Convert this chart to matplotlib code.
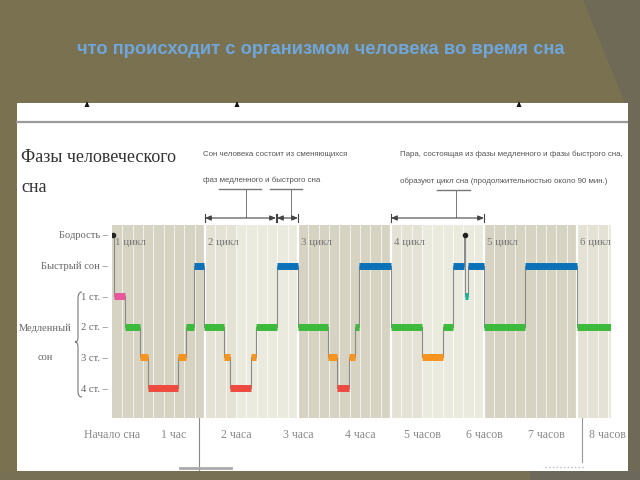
import matplotlib
matplotlib.use('Agg')
import matplotlib.pyplot as plt
from matplotlib.patches import Rectangle, Polygon, PathPatch
from matplotlib.path import Path

# ---------------- data ----------------
title = 'что происходит с организмом человека во время сна'
heading = ['Фазы человеческого', 'сна']
note1 = ['Сон человека состоит из сменяющихся', 'фаз медленного и быстрого сна']
note2 = ['Пара, состоящая из фазы медленного и фазы быстрого сна,',
         'образуют цикл сна (продолжительностью около 90 мин.)']
stage_labels = ['Бодрость', 'Быстрый сон', '1 ст.', '2 ст.', '3 ст.', '4 ст.']
group_label = ['Медленный', 'сон']
hour_ticks = [0, 1, 2, 3, 4, 5, 6, 7, 8]
hour_labels = ['Начало сна', '1 час', '2 часа', '3 часа', '4 часа',
               '5 часов', '6 часов', '7 часов', '8 часов']
cycle_starts = [0.0, 1.5, 3.0, 4.5, 6.0, 7.5]
cycle_labels = ['1 цикл', '2 цикл', '3 цикл', '4 цикл', '5 цикл', '6 цикл']
t_end = 8.05

# stage index: 0 awake, 1 REM, 2..5 slow sleep stages 1..4
seg_start = [0.00, 0.03, 0.21, 0.45, 0.58, 1.07, 1.19, 1.32, 1.49, 1.81, 1.90, 2.24,
             2.32, 2.66, 3.00, 3.48, 3.63, 3.82, 3.92, 3.98, 4.50, 5.00, 5.34, 5.50,
             5.68, 5.69, 5.74, 6.00, 6.66, 7.50]
seg_end = [0.03, 0.21, 0.45, 0.58, 1.07, 1.19, 1.32, 1.49, 1.81, 1.90, 2.24, 2.32,
           2.66, 3.00, 3.48, 3.63, 3.82, 3.92, 3.98, 4.50, 5.00, 5.34, 5.50, 5.68,
           5.69, 5.74, 6.00, 6.66, 7.50, 8.05]
seg_stage = [0, 2, 3, 4, 5, 4, 3, 1, 3, 4, 5, 4,
             3, 1, 3, 4, 5, 4, 3, 1, 3, 4, 3, 1,
             0, 2, 1, 3, 1, 3]

# ---------------- style ----------------
stage_colors = {0: '#222222', 1: '#0b72b9', 2: '#e8559d', 3: '#3cba3c',
                4: '#f7941d', 5: '#ee4a3f'}
teal = '#12b59a'
slide_bg = '#7a7150'
serif = ['Liberation Serif', 'DejaVu Serif']
sans = ['Liberation Sans', 'DejaVu Sans']

fig = plt.figure(figsize=(6.4, 4.8), dpi=100)
fig.patch.set_facecolor(slide_bg)

bg = fig.add_axes([0, 0, 1, 1])
bg.set_xlim(0, 640)
bg.set_ylim(480, 0)
bg.axis('off')

# slide decorations
bg.add_patch(Polygon([(583, 0), (640, 0), (640, 480), (628, 480), (628, 110)],
                     closed=True, facecolor='#6f6a56', edgecolor='none', zorder=0))
bg.add_patch(Rectangle((0, 471), 640, 9, facecolor='#777055', edgecolor='none', zorder=0))
bg.add_patch(Rectangle((530, 471), 110, 9, facecolor='#6c695c', edgecolor='none', zorder=0))
bg.add_patch(Rectangle((17, 103), 611, 368, facecolor='white', edgecolor='none', zorder=1))

bg.text(321, 50, title, ha='center', va='center', color='#6fa6dc',
        fontsize=13.2, fontweight='bold', family=sans, zorder=3)

# tiny marks at top of the panel
for cx in (87, 237, 519):
    bg.add_patch(Polygon([(cx - 2.5, 107), (cx + 2.5, 107), (cx, 101)], closed=True,
                         facecolor='#111111', edgecolor='none', zorder=2))
bg.plot([17, 627], [122, 122], color='#9a9a9a', lw=1.6, zorder=2)

# heading
bg.text(21, 157, heading[0], ha='left', va='center', color='#333333',
        fontsize=13, family=serif, zorder=3)
bg.text(21, 187, heading[1], ha='left', va='center', color='#333333',
        fontsize=13, family=serif, zorder=3)

# notes
note_col = '#555555'
nfs = 5.7
bg.text(203, 154, note1[0], ha='left', va='center', color=note_col, fontsize=nfs,
        family=sans, zorder=3)
bg.text(203, 180, note1[1], ha='left', va='center', color=note_col, fontsize=nfs,
        family=sans, zorder=3)
bg.text(400, 154, note2[0], ha='left', va='center', color=note_col, fontsize=nfs,
        family=sans, zorder=3)
bg.text(400, 181, note2[1], ha='left', va='center', color=note_col, fontsize=nfs,
        family=sans, zorder=3)

line_col = '#444444'
# underlines + leaders
bg.plot([219, 261], [189, 189], color='#777777', lw=1.0, zorder=3)
bg.plot([246, 246], [189, 217], color='#777777', lw=0.7, zorder=3)
bg.plot([270, 302], [189, 189], color='#777777', lw=1.0, zorder=3)
bg.plot([291, 291], [189, 217], color='#777777', lw=0.7, zorder=3)
bg.plot([437, 470], [190, 190], color='#777777', lw=1.0, zorder=3)
bg.plot([456, 456], [190, 217], color='#777777', lw=0.7, zorder=3)

for x0, x1 in ((205, 276), (277, 298), (391, 484)):
    bg.annotate('', xy=(x0, 218), xytext=(x1, 218),
                arrowprops=dict(arrowstyle='<|-|>,head_length=0.35,head_width=0.15',
                                color=line_col, lw=0.8, shrinkA=0, shrinkB=0), zorder=3)
    for xx in (x0, x1):
        bg.plot([xx, xx], [214, 222], color=line_col, lw=0.8, zorder=3)

# group label + brace
bg.text(45, 328, group_label[0], ha='center', va='center', color='#666666',
        fontsize=7.5, family=serif, zorder=3)
bg.text(45, 357, group_label[1], ha='center', va='center', color='#666666',
        fontsize=7.5, family=serif, zorder=3)
verts = [(82, 292), (79, 292), (78, 295), (78, 299),
         (78, 337),
         (78, 340), (77, 342), (75, 342),
         (77, 342), (78, 344), (78, 347),
         (78, 391),
         (78, 395), (79, 397), (82, 397)]
codes = [Path.MOVETO, Path.CURVE4, Path.CURVE4, Path.CURVE4,
         Path.LINETO,
         Path.CURVE4, Path.CURVE4, Path.CURVE4,
         Path.CURVE4, Path.CURVE4, Path.CURVE4,
         Path.LINETO,
         Path.CURVE4, Path.CURVE4, Path.CURVE4]
bg.add_patch(PathPatch(Path(verts, codes), facecolor='none', edgecolor='#777777',
                       lw=0.8, zorder=3))

# stray guide lines of the original graphic
bg.plot([199, 199], [268, 470], color='#888888', lw=0.8, zorder=4)
bg.plot([582, 582], [268, 462], color='#999999', lw=0.8, zorder=4)
bg.plot([180, 231], [468, 468], color='#aaaaaa', lw=2.0, zorder=4)
bg.plot([545, 585], [467, 467], color='#bbbbbb', lw=1.0, ls=':', zorder=4)

# ---------------- hypnogram axes ----------------
L, R, T, B = 112, 611, 225, 418
ax = fig.add_axes([L / 640, (480 - B) / 480, (R - L) / 640, (B - T) / 480])
ax.patch.set_visible(False)
ax.set_zorder(2)
ax.set_xlim(0, t_end)
px_per_level = (388 - 235) / 5
ax.set_ylim((B - 235) / px_per_level, (T - 235) / px_per_level)

# background bands per cycle
bounds = cycle_starts + [t_end]
for i in range(len(cycle_starts)):
    a, b = bounds[i], bounds[i + 1]
    if i % 2 == 0:
        ax.axvspan(a, b, color='#d6d3c2', lw=0, zorder=0)
    else:
        ax.axvspan(a, min(a + 0.5, b), color='#e3e2d4', lw=0, zorder=0)
        if a + 0.5 < b:
            ax.axvspan(a + 0.5, b, color='#ebeadf', lw=0, zorder=0)
    ax.text(a + 0.05, 0.26, cycle_labels[i], ha='left', va='center', color='#777777',
            fontsize=7.8, family=serif, zorder=5)
    if i > 0:
        ax.axvline(a, color='white', lw=1.6, zorder=1)

k = 1
while k / 6 < t_end:
    ax.axvline(k / 6, color='white', lw=0.7, alpha=0.7, zorder=1)
    k += 1

# connectors
for i in range(1, len(seg_stage)):
    y0, y1 = seg_stage[i - 1], seg_stage[i]
    ax.plot([seg_start[i], seg_start[i]], [y0, y1], color='#8a8a8a', lw=0.8, zorder=2)

# stage bars
for i, (s, e, st) in enumerate(zip(seg_start, seg_end, seg_stage)):
    if st == 0:
        ax.plot([s + 0.01], [st], marker='o', ms=3, color='#222222', zorder=4)
        continue
    c = stage_colors[st]
    if st == 2 and s > 5:
        c = teal
    ax.hlines(st, s, e, colors=c, lw=5, zorder=3, capstyle='butt')

ax.set_yticks(range(len(stage_labels)), [lab + ' –' for lab in stage_labels])
ax.set_xticks(hour_ticks, hour_labels)
ax.tick_params(axis='both', length=0)
ax.tick_params(axis='y', pad=3, labelcolor='#666666', labelsize=7.6)
ax.tick_params(axis='x', pad=8, labelcolor='#888888', labelsize=8.5)
for lab in ax.get_xticklabels() + ax.get_yticklabels():
    lab.set_family(serif)
for sp in ax.spines.values():
    sp.set_visible(False)

fig.savefig('out.png', dpi=100, facecolor=fig.get_facecolor())
